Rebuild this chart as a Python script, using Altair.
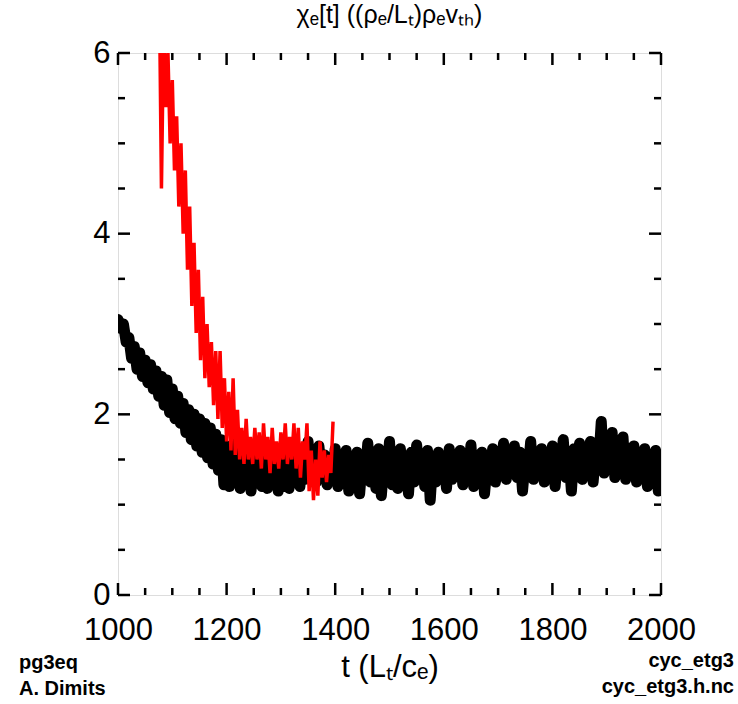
import altair as alt
import pandas as pd

# ---------------- data ----------------
black_t = list(range(1000, 2001, 5))
black_v = [
    3.05, 2.95, 3.00, 2.80, 2.85, 2.62, 2.75, 2.50, 2.68, 2.42,
    2.60, 2.35, 2.55, 2.28, 2.48, 2.20, 2.42, 2.10, 2.38, 2.02,
    2.28, 1.95, 2.20, 1.90, 2.12, 1.80, 2.05, 1.72, 2.00, 1.65,
    1.95, 1.58, 1.90, 1.52, 1.85, 1.45, 1.78, 1.38, 1.72, 1.22,
    1.65, 1.20, 1.58, 1.25, 1.70, 1.18, 1.58, 1.30, 1.65, 1.15,
    1.50, 1.28, 1.62, 1.20, 1.45, 1.18, 1.55, 1.22, 1.48, 1.15,
    1.42, 1.20, 1.52, 1.18, 1.45, 1.25, 1.55, 1.20, 1.62, 1.28,
    1.70, 1.30, 1.58, 1.25, 1.65, 1.35, 1.55, 1.22, 1.48, 1.30,
    1.62, 1.20, 1.50, 1.28, 1.60, 1.15, 1.45, 1.22, 1.58, 1.12,
    1.50, 1.30, 1.68, 1.25, 1.52, 1.18, 1.62, 1.10, 1.48, 1.32,
    1.70, 1.22, 1.55, 1.18, 1.62, 1.28, 1.45, 1.12, 1.58, 1.25,
    1.66, 1.30, 1.50, 1.20, 1.60, 1.05, 1.52, 1.25, 1.58, 1.30,
    1.48, 1.18, 1.62, 1.28, 1.55, 1.35, 1.60, 1.22, 1.50, 1.30,
    1.66, 1.20, 1.52, 1.35, 1.58, 1.12, 1.45, 1.30, 1.62, 1.25,
    1.55, 1.38, 1.68, 1.28, 1.52, 1.40, 1.65, 1.30, 1.58, 1.15,
    1.50, 1.35, 1.70, 1.28, 1.55, 1.40, 1.62, 1.25, 1.58, 1.35,
    1.65, 1.20, 1.55, 1.40, 1.72, 1.30, 1.58, 1.15, 1.62, 1.38,
    1.68, 1.28, 1.55, 1.42, 1.70, 1.25, 1.60, 1.45, 1.92, 1.35,
    1.62, 1.40, 1.80, 1.30, 1.58, 1.35, 1.75, 1.28, 1.55, 1.40,
    1.65, 1.25, 1.58, 1.38, 1.62, 1.20, 1.55, 1.42, 1.60, 1.15,
    1.50,
]

red_t = list(range(1060, 1397, 4))
red_v = [
    7.00, 6.40, 7.00, 6.20, 6.80, 4.50, 6.30, 5.40, 6.00, 5.00,
    5.70, 4.70, 5.30, 4.30, 5.00, 4.00, 4.70, 3.60, 4.30, 3.20,
    3.90, 2.90, 3.60, 2.60, 3.30, 2.40, 3.00, 2.30, 2.80, 2.10,
    2.70, 1.95, 2.70, 1.85, 2.40, 1.70, 2.25, 1.60, 2.40, 1.55,
    2.05, 1.50, 1.85, 1.45, 1.95, 1.50, 1.75, 1.45, 1.85, 1.50,
    1.80, 1.40, 1.90, 1.50, 1.75, 1.35, 1.85, 1.45, 1.70, 1.40,
    1.80, 1.50, 1.90, 1.45, 1.75, 1.50, 1.90, 1.40, 1.85, 1.30,
    1.70, 1.50, 1.90, 1.15, 1.60, 1.05, 1.50, 1.10, 1.70, 1.30,
    1.60, 1.25, 1.55, 1.35, 1.92,
]

x_major = [1000, 1200, 1400, 1600, 1800, 2000]
x_minor = [t for t in range(1000, 2001, 50) if t % 200 != 0]
y_major = [0, 2, 4, 6]
y_minor = [0.5, 1, 1.5, 2.5, 3, 3.5, 4.5, 5, 5.5]

title_text = "χₑ[t]  ((ρₑ/Lₜ)ρₑvₜₕ)"
x_title = "t  (Lₜ/cₑ)"
foot_left = ["pg3eq", "A. Dimits"]
foot_right = ["cyc_etg3", "cyc_etg3.h.nc"]

# ---------------- layout ----------------
W, H = 543, 542
FONT = "Liberation Sans"
MAJ, MIN = 12, 7

xscale = alt.Scale(domain=[1000, 2000], nice=False, zero=False)
yscale = alt.Scale(domain=[0, 6], nice=False, zero=False)
xaxis = alt.Axis(values=x_major, format="d", title=x_title, ticks=False, tickSize=0,
                 domain=False, grid=False, labelFontSize=31, labelPadding=20,
                 labelFlush=False, labelOverlap=False,
                 labelFont=FONT, labelColor="black", titleFont=FONT, titleFontSize=31,
                 titleFontWeight="normal", titleColor="black",
                 titleY=72, titleBaseline="middle", titleX=W / 2)
yaxis = alt.Axis(values=y_major, format="d", title=None, ticks=False, tickSize=0,
                 domain=False, grid=False, labelFontSize=31, labelPadding=8,
                 labelFlush=False, labelOverlap=False,
                 labelFont=FONT, labelColor="black")


def X(field="t"):
    return alt.X(f"{field}:Q", scale=xscale, axis=xaxis)


def Y(field="v"):
    return alt.Y(f"{field}:Q", scale=yscale, axis=yaxis)


black_df = pd.DataFrame({"t": black_t, "v": black_v})
red_df = pd.DataFrame({"t": red_t, "v": red_v})

black = alt.Chart(black_df).mark_line(
    color="black", strokeWidth=11, strokeJoin="round", strokeCap="round", clip=True
).encode(x=X(), y=Y())

red = alt.Chart(red_df).mark_line(
    color="#ff0000", strokeWidth=3.5, strokeJoin="miter", clip=True
).encode(x=X(), y=Y())


def xticks(vals, length):
    df = pd.DataFrame({"t": vals})
    bottom = alt.Chart(df).mark_rule(color="black", strokeWidth=2.5).encode(
        x=X(), y=alt.value(H), y2=alt.value(H - length))
    top = alt.Chart(df).mark_rule(color="black", strokeWidth=2.5).encode(
        x=X(), y=alt.value(0), y2=alt.value(length))
    return [bottom, top]


def yticks(vals, length):
    df = pd.DataFrame({"v": vals})
    left = alt.Chart(df).mark_rule(color="black", strokeWidth=2.5).encode(
        y=Y(), x=alt.value(0), x2=alt.value(length))
    right = alt.Chart(df).mark_rule(color="black", strokeWidth=2.5).encode(
        y=Y(), x=alt.value(W), x2=alt.value(W - length))
    return [left, right]


one = pd.DataFrame({"a": [0]})


def note(txt, x, y, align):
    return alt.Chart(one).mark_text(
        text=txt, align=align, baseline="middle", font=FONT, fontSize=20,
        fontWeight="bold", color="black"
    ).encode(x=alt.value(x), y=alt.value(y))


notes = [
    note(foot_left[0], -99, 610, "left"),
    note(foot_left[1], -99, 636, "left"),
    note(foot_right[0], 616, 608, "right"),
    note(foot_right[1], 616, 634, "right"),
]

layers = ([black, red]
          + xticks(x_major, MAJ) + xticks(x_minor, MIN)
          + yticks(y_major, MAJ) + yticks(y_minor, MIN)
          + notes)

chart = alt.layer(*layers).properties(
    width=W, height=H,
    autosize=alt.AutoSizeParams(type="none"),
    padding={"left": 118, "top": 53, "right": 77, "bottom": 109},
    title=alt.Title(title_text, font=FONT, fontSize=25, fontWeight="normal",
                    color="black", anchor="middle", offset=9),
).configure_view(stroke="black", strokeWidth=2.5).configure(background="white")

chart.save("out.html", embed_options={"renderer": "svg", "actions": False})
